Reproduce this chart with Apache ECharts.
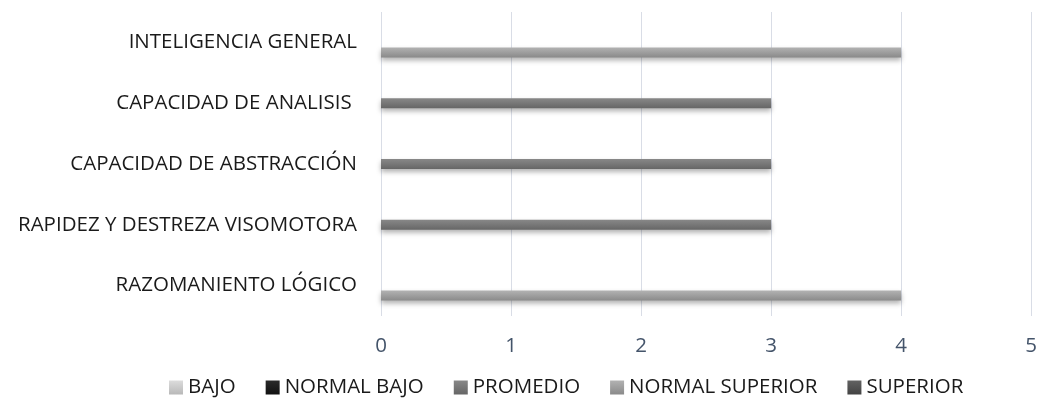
<!DOCTYPE html>
<html>
<head>
<meta charset="utf-8">
<script src="https://cdn.jsdelivr.net/npm/echarts@6/dist/echarts.min.js"></script>
<style>
  html, body { margin: 0; padding: 0; background: #fff; }
  #chart { width: 1040px; height: 403px; }
</style>
</head>
<body>
<div id="chart"></div>
<script>
// categories bottom to top (category axis starts at the bottom)
const categories = [
  'RAZOMANIENTO LÓGICO',
  'RAPIDEZ Y DESTREZA VISOMOTORA',
  'CAPACIDAD DE ABSTRACCIÓN',
  'CAPACIDAD DE ANALISIS ',
  'INTELIGENCIA GENERAL'
];
const seriesNames = ['BAJO', 'NORMAL BAJO', 'PROMEDIO', 'NORMAL SUPERIOR', 'SUPERIOR'];
const bajo = [0, 0, 0, 0, 0];
const normalBajo = [0, 0, 0, 0, 0];
const promedio = [0, 3, 3, 3, 0];
const normalSuperior = [4, 0, 0, 0, 4];
const superior = [0, 0, 0, 0, 0];
const xTicks = [0, 1, 2, 3, 4, 5];

const seriesValues = [bajo, normalBajo, promedio, normalSuperior, superior];
// top / bottom colour of each series gradient
const colors = [
  ['#dcdcdc', '#b8b8b8'],
  ['#2a2a2a', '#111111'],
  ['#888888', '#666666'],
  ['#b2b2b2', '#8a8a8a'],
  ['#626262', '#434343']
];

const font = '"Open Sans", sans-serif';

const chart = echarts.init(document.getElementById('chart'));

const grad = (c) => new echarts.graphic.LinearGradient(0, 0, 0, 1, [
  { offset: 0, color: c[0] },
  { offset: 1, color: c[1] }
]);

chart.setOption({
  animation: false,
  grid: { left: 381, right: 5, top: 12, bottom: 87 },
  legend: {
    top: 372,
    left: 164,
    itemWidth: 14,
    itemHeight: 14,
    itemGap: 30,
    textStyle: { fontFamily: font, fontSize: 20.5, color: '#1a1a1a' },
    data: seriesNames.map((n, i) => ({ name: n, icon: 'rect', itemStyle: { color: grad(colors[i]) } }))
  },
  xAxis: {
    type: 'value',
    min: xTicks[0],
    max: xTicks[xTicks.length - 1],
    interval: 1,
    axisLine: { show: false },
    axisTick: { show: false },
    axisLabel: { fontFamily: font, fontSize: 20.5, color: '#44546a', margin: 20 },
    splitLine: { lineStyle: { color: '#d9dde6', width: 1 } }
  },
  yAxis: {
    type: 'category',
    data: categories,
    axisLine: { show: false },
    axisTick: { show: false },
    axisLabel: { fontFamily: font, fontSize: 20.5, color: '#1a1a1a', margin: 24 }
  },
  series: seriesNames.map((n, i) => ({
    name: n,
    type: 'bar',
    data: seriesValues[i],
    barWidth: 10,
    barGap: '0%',
    itemStyle: {
      color: grad(colors[i]),
      shadowColor: 'rgba(0,0,0,0.3)',
      shadowBlur: 5,
      shadowOffsetY: 3
    }
  }))
});
</script>
</body>
</html>
